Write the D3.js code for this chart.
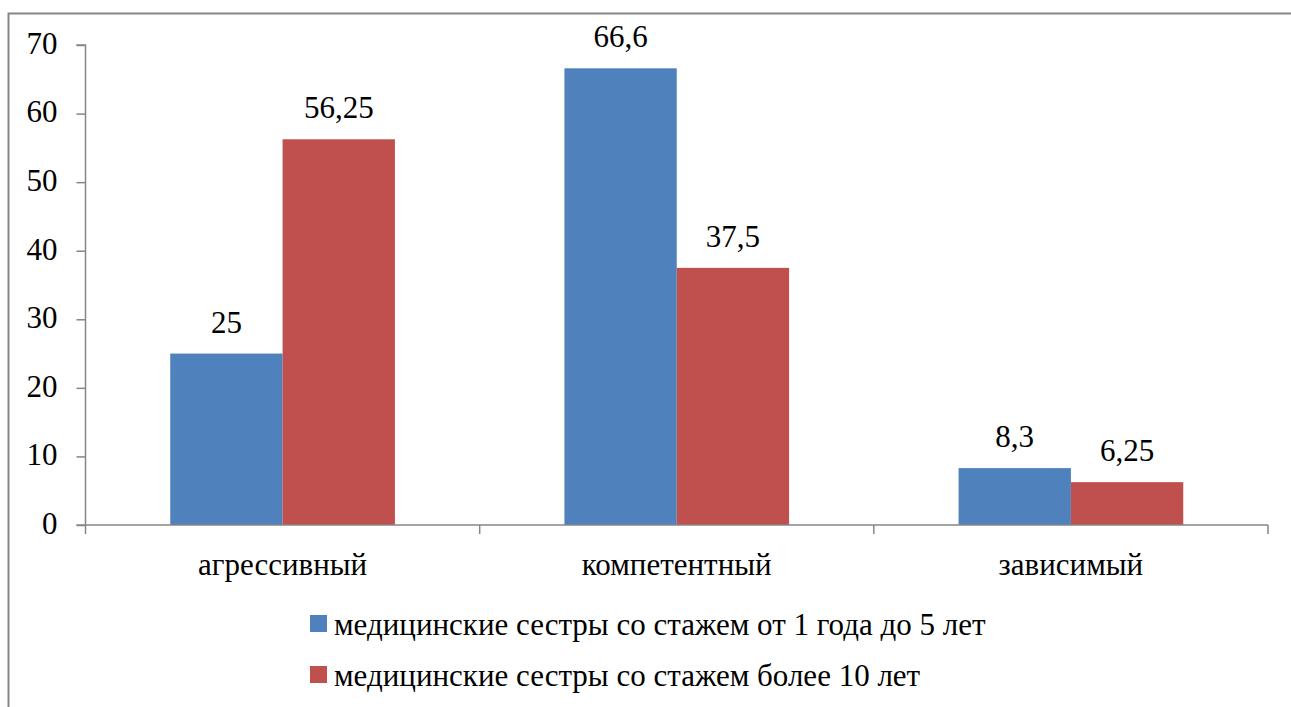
<!DOCTYPE html>
<html>
<head>
<meta charset="utf-8">
<script src="https://cdn.jsdelivr.net/npm/d3@7"></script>
<style>
  html, body { margin: 0; padding: 0; background: #fff; }
  svg { display: block; font-family: "Times New Roman"; }
</style>
</head>
<body>
<svg id="chart" width="1291" height="707" font-family="Times New Roman"></svg>
<script>
// Стили общения медицинских сестёр, %
const categories = ["агрессивный", "компетентный", "зависимый"];
const seriesNames = [
  "медицинские сестры со стажем от 1 года до 5 лет",
  "медицинские сестры со стажем более 10 лет"
];
const valuesJunior = [25, 66.6, 8.3];
const valuesSenior = [56.25, 37.5, 6.25];
const valueLabelsJunior = ["25", "66,6", "8,3"];
const valueLabelsSenior = ["56,25", "37,5", "6,25"];
const yTicks = [0, 10, 20, 30, 40, 50, 60, 70];
const colors = ["#4F81BD", "#C0504D"];

const FONT = "Times New Roman";
const FS = 31;

const svg = d3.select("#chart");
const W = 1291, H = 707;

// outer frame of the chart area
svg.append("rect")
  .attr("x", 8.5).attr("y", 13.5)
  .attr("width", W + 20).attr("height", H + 20)
  .attr("fill", "none").attr("stroke", "#868686").attr("stroke-width", 2);

const plot = { left: 85.5, right: 1268, top: 45, bottom: 525 };

const x0 = d3.scaleBand()
  .domain(categories)
  .range([plot.left, plot.right])
  .paddingInner(0)
  .paddingOuter(0);

const inner = 0.215; // side gap as share of category width
const x1 = d3.scaleBand()
  .domain([0, 1])
  .range([x0.bandwidth() * inner, x0.bandwidth() * (1 - inner)])
  .padding(0);

const y = d3.scaleLinear().domain([0, 70]).range([plot.bottom, plot.top]);

const series = [valuesJunior, valuesSenior];
const labels = [valueLabelsJunior, valueLabelsSenior];

function serifText(sel) {
  return sel.attr("font-family", FONT).attr("font-size", FS).attr("fill", "#000");
}

// bars and value labels
series.forEach((vals, si) => {
  svg.append("g").selectAll("rect")
    .data(vals)
    .join("rect")
    .attr("x", (d, i) => x0(categories[i]) + x1(si))
    .attr("y", d => y(d))
    .attr("width", x1.bandwidth())
    .attr("height", d => y(0) - y(d))
    .attr("fill", colors[si]);

  svg.append("g").selectAll("text")
    .data(vals)
    .join("text")
    .attr("x", (d, i) => x0(categories[i]) + x1(si) + x1.bandwidth() / 2)
    .attr("y", d => y(d) - 21)
    .attr("text-anchor", "middle")
    .call(serifText)
    .text((d, i) => labels[si][i]);
});

// y axis
const yAxis = d3.axisLeft(y).tickValues(yTicks).tickSize(9).tickPadding(19);
const gy = svg.append("g").attr("transform", `translate(${plot.left},0)`).call(yAxis);
gy.attr("font-family", FONT).attr("font-size", FS);
gy.select(".domain").attr("stroke", "#868686").attr("stroke-width", 1.5)
  .attr("d", `M-9,${plot.top}H0V${plot.bottom}`);
gy.selectAll(".tick line").attr("stroke", "#868686").attr("stroke-width", 1.5);
gy.selectAll(".tick text").call(serifText).attr("dy", "0.27em");

// x axis
const gx = svg.append("g").attr("transform", `translate(0,${plot.bottom})`);
gx.append("line").attr("x1", plot.left - 9).attr("x2", plot.right)
  .attr("stroke", "#868686").attr("stroke-width", 1.5);
const bounds = [plot.left, ...categories.map(c => x0(c) + x0.bandwidth())];
gx.selectAll("line.tick").data(bounds).join("line")
  .attr("class", "tick")
  .attr("x1", d => d).attr("x2", d => d)
  .attr("y1", 0).attr("y2", 9)
  .attr("stroke", "#868686").attr("stroke-width", 1.5);
gx.selectAll("text").data(categories).join("text")
  .attr("x", d => x0(d) + x0.bandwidth() / 2)
  .attr("y", 50)
  .attr("text-anchor", "middle")
  .call(serifText)
  .text(d => d);

// legend
const legend = svg.append("g");
seriesNames.forEach((name, i) => {
  const ly = 615 + i * 51;
  legend.append("rect").attr("x", 310).attr("y", ly)
    .attr("width", 17).attr("height", 17).attr("fill", colors[i]);
  legend.append("text").attr("x", 334).attr("y", ly + 20)
    .call(serifText)
    .text(name);
});
</script>
</body>
</html>
